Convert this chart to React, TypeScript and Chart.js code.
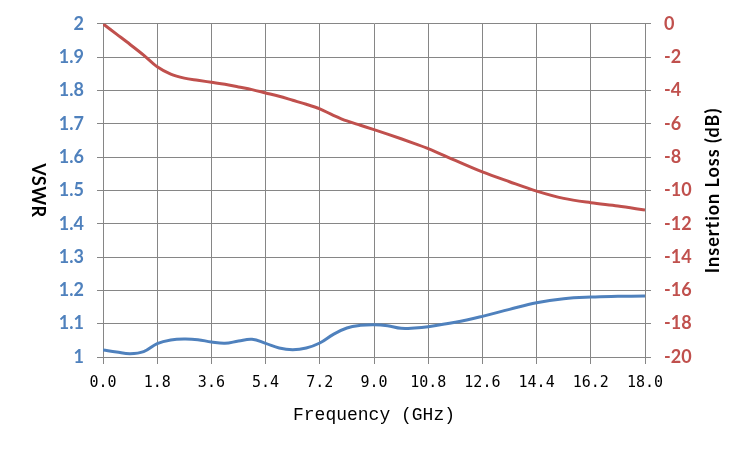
import React, { useEffect, useRef } from "react";
import { Chart, registerables } from "chart.js";

Chart.register(...registerables);

// frequency points (GHz)
const frequency = [
	0, 0.45, 0.9, 1.35, 1.8, 2.25, 2.7, 3.15, 3.6, 4.05, 4.5, 4.95, 5.4, 5.85, 6.3, 6.75, 7.2, 7.65,
	8.1, 8.55, 9.0, 9.45, 9.9, 10.35, 10.8, 11.7, 12.6, 13.5, 14.4, 15.3, 16.2, 17.1, 18.0,
];

const vswr = [
	1.021, 1.015, 1.01, 1.016, 1.04, 1.051, 1.054, 1.052, 1.045, 1.041, 1.048, 1.053, 1.041, 1.027,
	1.022, 1.027, 1.042, 1.068, 1.087, 1.095, 1.097, 1.094, 1.086, 1.087, 1.091, 1.104, 1.122, 1.143,
	1.163, 1.175, 1.18, 1.182, 1.183,
];

const insertionLoss = [
	0, -0.62, -1.24, -1.88, -2.58, -3.02, -3.26, -3.39, -3.51, -3.63, -3.79, -3.95, -4.15, -4.35, -4.59,
	-4.83, -5.11, -5.49, -5.83, -6.09, -6.35, -6.62, -6.9, -7.19, -7.49, -8.2, -8.89, -9.48, -10.04,
	-10.48, -10.74, -10.94, -11.18,
];

const freqTicks = [0, 1.8, 3.6, 5.4, 7.2, 9.0, 10.8, 12.6, 14.4, 16.2, 18.0];
const vswrTicks = [1, 1.1, 1.2, 1.3, 1.4, 1.5, 1.6, 1.7, 1.8, 1.9, 2];
const lossTicks = [-20, -18, -16, -14, -12, -10, -8, -6, -4, -2, 0];

const BLUE = "#4F81BD";
const RED = "#C0504D";
const GRID = "#868686";

const axisTitles = {
	id: "axisTitles",
	afterDraw(chart: Chart) {
		const { ctx, chartArea } = chart;
		const midY = (chartArea.top + chartArea.bottom) / 2;
		const c = ctx as any;
		ctx.save();
		ctx.fillStyle = "#000";
		ctx.textAlign = "center";
		ctx.textBaseline = "middle";
		ctx.font = "bold 18px Lato";
		// left title reads top to bottom
		ctx.save();
		c.letterSpacing = "0.5px";
		ctx.translate(chartArea.left - 65, midY);
		ctx.rotate(Math.PI / 2);
		ctx.fillText("VSWR", 0, 0);
		ctx.restore();
		// right title reads bottom to top
		ctx.save();
		c.letterSpacing = "1px";
		ctx.translate(chartArea.right + 68, midY);
		ctx.rotate(-Math.PI / 2);
		ctx.fillText("Insertion Loss (dB)", 0, 0);
		ctx.restore();
		ctx.font = "18px 'Liberation Mono'";
		ctx.fillText("Frequency (GHz)", (chartArea.left + chartArea.right) / 2, chartArea.bottom + 58);
		ctx.restore();
	},
};

const App: React.FC = () => {
	const chartRef = useRef<HTMLCanvasElement>(null);
	const chartInstance = useRef<Chart | null>(null);

	useEffect(() => {
		if (!chartRef.current) return;
		if (chartInstance.current) chartInstance.current.destroy();

		chartInstance.current = new Chart(chartRef.current, {
			type: "line",
			data: {
				datasets: [
					{
						label: "VSWR",
						data: frequency.map((f, i) => ({ x: f, y: vswr[i] })),
						borderColor: BLUE,
						borderWidth: 3,
						pointRadius: 0,
						tension: 0.4,
						yAxisID: "y",
					},
					{
						label: "Insertion Loss",
						data: frequency.map((f, i) => ({ x: f, y: insertionLoss[i] })),
						borderColor: RED,
						borderWidth: 3,
						pointRadius: 0,
						cubicInterpolationMode: "monotone",
						yAxisID: "y1",
					},
				],
			},
			options: {
				animation: false,
				responsive: true,
				maintainAspectRatio: false,
				layout: { padding: { top: 23, left: 0, right: 0, bottom: 0 } },
				plugins: {
					legend: { display: false },
					tooltip: { enabled: false },
				},
				scales: {
					x: {
						type: "linear",
						position: "bottom",
						min: 0,
						max: 18,
						afterBuildTicks: (scale: any) => {
							scale.ticks = freqTicks.map((v) => ({ value: v }));
						},
						afterFit: (scale: any) => {
							scale.height = 98;
						},
						ticks: {
							color: "#000",
							font: { family: "'DejaVu Sans Mono'", size: 15 },
							padding: 10,
							maxRotation: 0,
							callback: (v: any) => Number(v).toFixed(1),
						},
						grid: { color: GRID, tickLength: 7 },
						border: { color: GRID },
					},
					y: {
						position: "left",
						min: 1,
						max: 2,
						afterBuildTicks: (scale: any) => {
							scale.ticks = vswrTicks.map((v) => ({ value: v }));
						},
						afterFit: (scale: any) => {
							scale.width = 103;
						},
						ticks: {
							color: BLUE,
							font: { family: "Lato", size: 18, weight: "bold" },
							padding: 13,
							callback: (v: any) => String(Number(Number(v).toFixed(1))),
						},
						grid: { color: GRID, tickLength: 6 },
						border: { color: GRID },
					},
					y1: {
						position: "right",
						min: -20,
						max: 0,
						afterBuildTicks: (scale: any) => {
							scale.ticks = lossTicks.map((v) => ({ value: v }));
						},
						afterFit: (scale: any) => {
							scale.width = 104;
						},
						ticks: {
							color: RED,
							font: { family: "Lato", size: 18, weight: "bold" },
							padding: 13,
						},
						grid: { color: GRID, tickLength: 6, drawOnChartArea: false },
						border: { color: GRID },
					},
				},
			},
			plugins: [axisTitles],
		});

		return () => {
			if (chartInstance.current) {
				chartInstance.current.destroy();
				chartInstance.current = null;
			}
		};
	}, []);

	return (
		<div style={{ position: "fixed", left: 0, top: 0, width: 749, height: 455, background: "#fff" }}>
			<canvas ref={chartRef}></canvas>
		</div>
	);
};

export default App;
